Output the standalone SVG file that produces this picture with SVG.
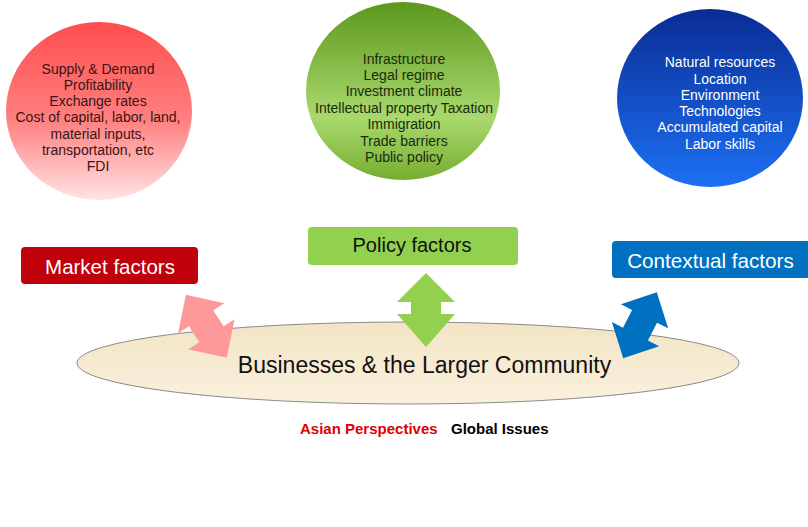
<svg xmlns="http://www.w3.org/2000/svg" width="808" height="527" viewBox="0 0 808 527">
<defs>
<linearGradient id="gRed" x1="0" y1="0" x2="0" y2="1">
<stop offset="0" stop-color="#FF4D4D"/>
<stop offset="0.55" stop-color="#FF8080"/>
<stop offset="1" stop-color="#FFE4E4"/>
</linearGradient>
<linearGradient id="gGreen" x1="0" y1="0" x2="0" y2="1">
<stop offset="0" stop-color="#5C981C"/>
<stop offset="0.65" stop-color="#A9D96E"/>
<stop offset="1" stop-color="#76AE30"/>
</linearGradient>
<linearGradient id="gBlue" x1="0" y1="0" x2="0" y2="1">
<stop offset="0" stop-color="#0A2C94"/>
<stop offset="1" stop-color="#1C70F4"/>
</linearGradient>
<linearGradient id="gBase" x1="0" y1="0" x2="0" y2="1">
<stop offset="0" stop-color="#F2E4C4"/>
<stop offset="1" stop-color="#FAF1DE"/>
</linearGradient>
</defs>
<style>
.ct{font-family:"Liberation Sans",Arial,sans-serif;font-size:14px;text-anchor:middle}
.bx{font-family:"Liberation Sans",Arial,sans-serif;font-size:20px;text-anchor:middle}
.bt{font-family:"Liberation Sans",Arial,sans-serif;font-size:15px;font-weight:bold}
</style>
<rect width="808" height="527" fill="#FFFFFF"/>

<g id="market-circle">
<ellipse cx="99" cy="111" rx="93" ry="89" fill="url(#gRed)"/>
<g class="ct" fill="#3A1414">
<text x="98" y="74">Supply &amp; Demand</text>
<text x="98" y="90">Profitability</text>
<text x="98" y="106">Exchange rates</text>
<text x="98" y="122">Cost of capital, labor, land,</text>
<text x="98" y="139">material inputs,</text>
<text x="98" y="155">transportation, etc</text>
<text x="98" y="171">FDI</text>
</g>
</g>

<g id="policy-circle">
<ellipse cx="403" cy="91" rx="97" ry="89" fill="url(#gGreen)"/>
<g class="ct" fill="#1C2A0C">
<text x="404" y="64">Infrastructure</text>
<text x="404" y="80">Legal regime</text>
<text x="404" y="96">Investment climate</text>
<text x="404" y="113">Intellectual property Taxation</text>
<text x="404" y="129">Immigration</text>
<text x="404" y="146">Trade barriers</text>
<text x="404" y="162">Public policy</text>
</g>
</g>

<g id="contextual-circle">
<ellipse cx="710" cy="98" rx="93" ry="89" fill="url(#gBlue)"/>
<g class="ct" fill="#FFFFFF">
<text x="720" y="67">Natural resources</text>
<text x="720" y="84">Location</text>
<text x="720" y="100">Environment</text>
<text x="720" y="116">Technologies</text>
<text x="720" y="132">Accumulated capital</text>
<text x="720" y="149">Labor skills</text>
</g>
</g>

<g id="market-factors">
<rect x="21" y="247" width="177" height="37" rx="4" fill="#C0000B"/>
<text class="bx" x="110" y="274" fill="#FFFFFF" style="font-size:20.5px">Market factors</text>
</g>

<g id="policy-factors">
<rect x="308" y="227" width="210" height="38" rx="4" fill="#92D050"/>
<text class="bx" x="412" y="252" fill="#111111">Policy factors</text>
</g>

<g id="contextual-factors">
<rect x="612" y="241" width="200" height="37" rx="4" fill="#0070C0"/>
<text class="bx" x="710.5" y="268" fill="#FFFFFF" style="font-size:20.7px">Contextual factors</text>
</g>

<g id="community">
<ellipse cx="408" cy="363" rx="331" ry="41" fill="url(#gBase)" stroke="#8A8A8A" stroke-width="1"/>
<text x="424.5" y="373" fill="#111111" style="font-family:'Liberation Sans',Arial,sans-serif;font-size:23px;text-anchor:middle">Businesses &amp; the Larger Community</text>
</g>

<g id="connectors">
<path d="M-37.5,0 L-9.5,-27.5 L-9.5,-14.5 L9.5,-14.5 L9.5,-27.5 L37.5,0 L9.5,27.5 L9.5,14.5 L-9.5,14.5 L-9.5,27.5 Z" fill="#FF9999" transform="translate(206.3,326.3) rotate(57)"/>
<path d="M426,273 L455,302 L441,302 L441,314 L455,314 L426,347 L397,314 L411,314 L411,302 L397,302 Z" fill="#92D050"/>
<path d="M-37,0 L-10,-26.5 L-10,-14 L10,-14 L10,-26.5 L37,0 L10,26.5 L10,14 L-10,14 L-10,26.5 Z" fill="#0070C0" transform="translate(640,325.2) rotate(-63)"/>
</g>

<g id="caption">
<text class="bt" x="300" y="434" fill="#E00000">Asian Perspectives</text>
<text class="bt" x="451" y="434" fill="#000000">Global Issues</text>
</g>
</svg>
